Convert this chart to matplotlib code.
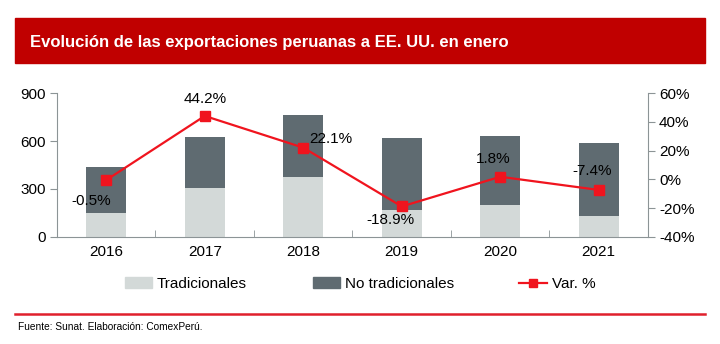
import matplotlib.pyplot as plt
from matplotlib.patches import Rectangle
from matplotlib.lines import Line2D
from matplotlib.ticker import FixedLocator, FuncFormatter

years = ["2016", "2017", "2018", "2019", "2020", "2021"]
tradicionales = [147, 308, 377, 166, 197, 132]
no_tradicionales = [290, 318, 385, 451, 433, 454]
var_pct = [-0.5, 44.2, 22.1, -18.9, 1.8, -7.4]
var_labels = ["-0.5%", "44.2%", "22.1%", "-18.9%", "1.8%", "-7.4%"]
label_offsets = [(-11, -15), (0, 12), (20, 6), (-8, -10), (-5, 13), (-5, 14)]

c_trad = "#D3D9D8"
c_notrad = "#5F6B71"
c_red = "#F0141E"
c_axis = "#8C9496"

plt.rcParams["font.family"] = ["Liberation Sans", "DejaVu Sans"]

fig = plt.figure(figsize=(7.2, 3.44), dpi=100)

# title bar
fig.patches.append(Rectangle((15 / 720, 1 - 63 / 344), 690 / 720, 45 / 344,
                             transform=fig.transFigure, color="#C00000", zorder=0))
fig.text(30 / 720, 1 - 42 / 344, "Evolución de las exportaciones peruanas a EE. UU. en enero",
         color="white", fontsize=12, fontweight="bold", va="center", ha="left")

ax = fig.add_axes([57 / 720, 1 - 236.7 / 344, 591 / 720, 143.4 / 344])
x = list(range(len(years)))
ax.bar(x, tradicionales, width=0.41, color=c_trad, zorder=2)
ax.bar(x, no_tradicionales, width=0.41, bottom=tradicionales, color=c_notrad, zorder=2)
ax.set_xlim(-0.5, 5.5)
ax.set_ylim(0, 900)
ax.set_yticks([0, 300, 600, 900])
ax.set_xticks(x)
ax.set_xticklabels(years)
ax.xaxis.set_minor_locator(FixedLocator([i + 0.5 for i in range(-1, 6)]))
ax.tick_params(axis="x", which="major", length=0, labelsize=11, pad=6)
ax.tick_params(axis="x", which="minor", length=5, color=c_axis, direction="in")
ax.tick_params(axis="y", length=5, color=c_axis, labelsize=11, pad=3)
for s in ["top", "right"]:
    ax.spines[s].set_visible(False)
for s in ["left", "bottom"]:
    ax.spines[s].set_color(c_axis)

ax2 = ax.twinx()
ax2.plot(x, var_pct, color=c_red, marker="s", markersize=7, linewidth=1.6, zorder=5)
ax2.set_ylim(-40, 60)
ax2.set_yticks([-40, -20, 0, 20, 40, 60])
ax2.yaxis.set_major_formatter(FuncFormatter(lambda v, p: f"{int(v)}%"))
ax2.tick_params(axis="y", length=5, color=c_axis, labelsize=11, pad=3)
for s in ["top", "left", "bottom"]:
    ax2.spines[s].set_visible(False)
ax2.spines["right"].set_color(c_axis)

for xi, yi, lab, off in zip(x, var_pct, var_labels, label_offsets):
    ax2.annotate(lab, (xi, yi), xytext=off, textcoords="offset points",
                 ha="center", va="center", fontsize=11)

# legend
handles = [Rectangle((0, 0), 1, 1, color=c_trad),
           Rectangle((0, 0), 1, 1, color=c_notrad),
           Line2D([0], [0], color=c_red, marker="s", markersize=6, linewidth=1.6)]
fig.legend(handles, ["Tradicionales", "No tradicionales", "Var. %"],
           loc="center", bbox_to_anchor=(0.5, 1 - 284 / 344), ncol=3, frameon=False,
           prop={"size": 11}, columnspacing=4.3, handlelength=1.8,
           handletextpad=0.3)

fig.add_artist(Line2D([15 / 720, 705 / 720], [1 - 314 / 344] * 2, color="#E0202C",
                      linewidth=1.8, transform=fig.transFigure))
fig.text(18 / 720, 1 - 327 / 344, "Fuente: Sunat. Elaboración: ComexPerú.",
         fontsize=7.3, va="center", ha="left")

fig.savefig("out.png", dpi=100)
